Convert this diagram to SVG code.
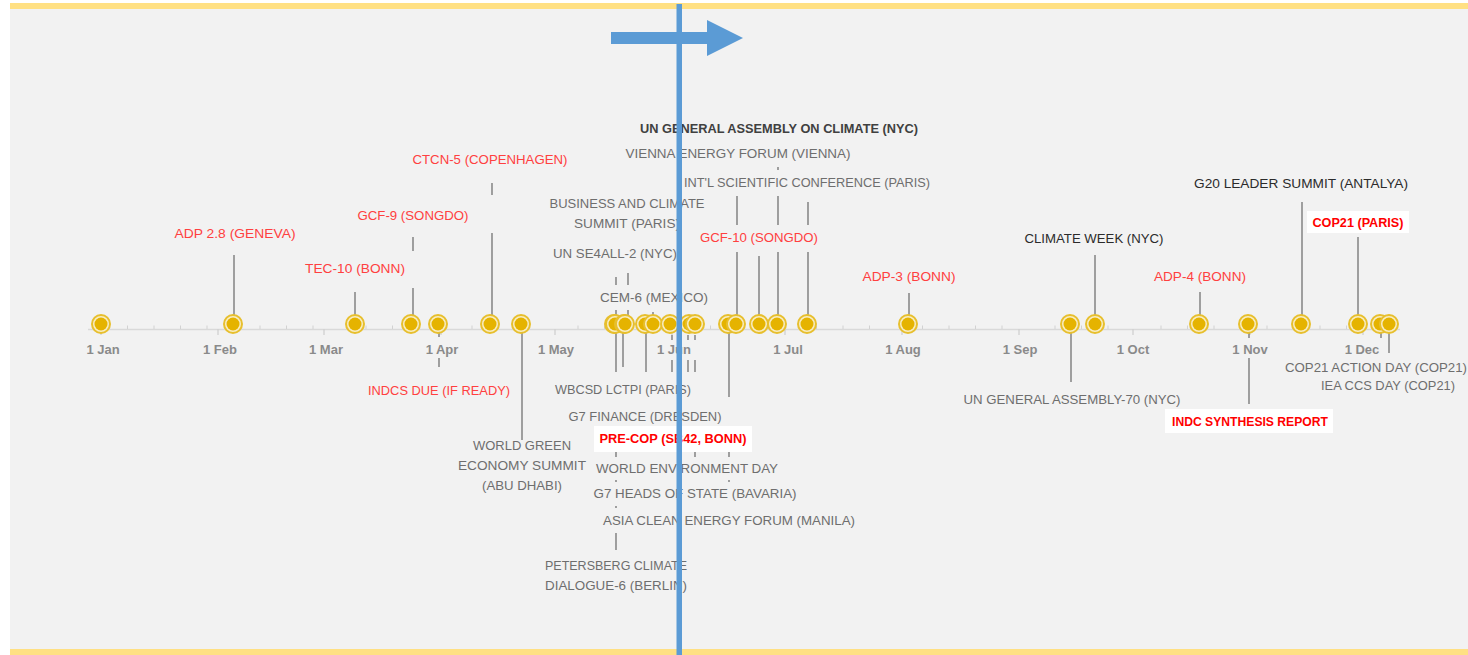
<svg xmlns="http://www.w3.org/2000/svg" xmlns:xlink="http://www.w3.org/1999/xlink" width="1468" height="655" viewBox="0 0 1468 655">
<style>
.t{font-family:"Liberation Sans",Arial,sans-serif;font-size:13.5px;text-anchor:middle}
.red{fill:#ff4040}
.gray{fill:#6e6e6e}
.dark{fill:#2b2b2b}
.bred{fill:#ff0000;font-weight:bold}
.bdark{fill:#404040;font-weight:bold}
.mon{fill:#8a8a8a;font-weight:bold;font-size:13px}
.stem{stroke:#7c7c7c;stroke-width:1.4;fill:none}
.minor{stroke:#d2d2d2;stroke-width:1}
.major{stroke:#cfcfcf;stroke-width:1.3}
.box{fill:#ffffff}
</style>
<defs>
<g id="dot"><circle r="9" fill="#f8edc4" stroke="#e7bf2e" stroke-width="2"/><circle r="6.5" fill="#e5b300"/></g>
</defs>
<rect x="10" y="3" width="1458" height="652" fill="#f2f2f2"/>
<rect x="10" y="3" width="1458" height="6" fill="#ffe083"/>
<rect x="10" y="649" width="1458" height="6" fill="#ffe083"/>

<g id="axis">
<line x1="88" y1="329.5" x2="1400" y2="329.5" stroke="#d9d9d9" stroke-width="1.5"/>
<g class="minor">
<line x1="127.5" y1="325.5" x2="127.5" y2="329"/><line x1="154" y1="325.5" x2="154" y2="329"/><line x1="180.5" y1="325.5" x2="180.5" y2="329"/><line x1="207" y1="325.5" x2="207" y2="329"/>
<line x1="260" y1="325.5" x2="260" y2="329"/><line x1="286.5" y1="325.5" x2="286.5" y2="329"/><line x1="313" y1="325.5" x2="313" y2="329"/>
<line x1="366" y1="325.5" x2="366" y2="329"/><line x1="392.5" y1="325.5" x2="392.5" y2="329"/><line x1="419" y1="325.5" x2="419" y2="329"/>
<line x1="472" y1="325.5" x2="472" y2="329"/><line x1="498.5" y1="325.5" x2="498.5" y2="329"/><line x1="525" y1="325.5" x2="525" y2="329"/>
<line x1="578" y1="325.5" x2="578" y2="329"/><line x1="604.5" y1="325.5" x2="604.5" y2="329"/><line x1="631" y1="325.5" x2="631" y2="329"/><line x1="657.5" y1="325.5" x2="657.5" y2="329"/>
<line x1="710.5" y1="325.5" x2="710.5" y2="329"/><line x1="737" y1="325.5" x2="737" y2="329"/><line x1="763.5" y1="325.5" x2="763.5" y2="329"/>
<line x1="816.5" y1="325.5" x2="816.5" y2="329"/><line x1="843" y1="325.5" x2="843" y2="329"/><line x1="869.5" y1="325.5" x2="869.5" y2="329"/>
<line x1="922.5" y1="325.5" x2="922.5" y2="329"/><line x1="949" y1="325.5" x2="949" y2="329"/><line x1="975.5" y1="325.5" x2="975.5" y2="329"/><line x1="1002" y1="325.5" x2="1002" y2="329"/>
<line x1="1055" y1="325.5" x2="1055" y2="329"/><line x1="1081.5" y1="325.5" x2="1081.5" y2="329"/><line x1="1108" y1="325.5" x2="1108" y2="329"/>
<line x1="1161" y1="325.5" x2="1161" y2="329"/><line x1="1187.5" y1="325.5" x2="1187.5" y2="329"/><line x1="1214" y1="325.5" x2="1214" y2="329"/>
<line x1="1267" y1="325.5" x2="1267" y2="329"/><line x1="1293.5" y1="325.5" x2="1293.5" y2="329"/><line x1="1320" y1="325.5" x2="1320" y2="329"/><line x1="1346.5" y1="325.5" x2="1346.5" y2="329"/>
<line x1="1373" y1="325.5" x2="1373" y2="329"/>
</g>
<g class="major">
<line x1="101" y1="329" x2="101" y2="335"/><line x1="218" y1="329" x2="218" y2="335"/><line x1="324" y1="329" x2="324" y2="335"/><line x1="441" y1="329" x2="441" y2="335"/>
<line x1="555" y1="329" x2="555" y2="335"/><line x1="672" y1="329" x2="672" y2="335"/><line x1="785" y1="329" x2="785" y2="335"/><line x1="902" y1="329" x2="902" y2="335"/>
<line x1="1019" y1="329" x2="1019" y2="335"/><line x1="1133" y1="329" x2="1133" y2="335"/><line x1="1250" y1="329" x2="1250" y2="335"/><line x1="1363" y1="329" x2="1363" y2="335"/>
</g>
<g class="t mon">
<text x="103" y="354">1 Jan</text><text x="220" y="354">1 Feb</text><text x="326" y="354">1 Mar</text><text x="442" y="354">1 Apr</text>
<text x="556" y="354">1 May</text><text x="674" y="354">1 Jun</text><text x="788" y="354">1 Jul</text><text x="903" y="354">1 Aug</text>
<text x="1020" y="354">1 Sep</text><text x="1133" y="354">1 Oct</text><text x="1250" y="354">1 Nov</text><text x="1362" y="354">1 Dec</text>
</g>
</g>

<g id="connectors" class="stem">
<path d="M234 255V316"/>
<path d="M355 292V316"/>
<path d="M413 237V251M413 288V316"/>
<path d="M439 333V337M439 358V367"/>
<path d="M492 183V195M492 233V316"/>
<path d="M522 333V440"/>
<path d="M616 277V285M616 310V316"/>
<path d="M628 273V285M628 310V316"/>
<path d="M653 312V316"/>
<path d="M616 333V372M616 452V457M616 480V482M616 506V508M616 533V550"/>
<path d="M623 333V367"/>
<path d="M646 333V372"/>
<path d="M672 335V340M672 360V372"/>
<path d="M688 335V340M688 360V372"/>
<path d="M695 335V340M695 360V372M695 452V457"/>
<path d="M729 333V397M729 452V457M729 480V482"/>
<path d="M737 196V225M737 252V316"/>
<path d="M759 256V316"/>
<path d="M778 167V170M778 196V225M778 252V316"/>
<path d="M808 202V225M808 252V316"/>
<path d="M909 293V316"/>
<path d="M1071 333V382"/>
<path d="M1095 255V316"/>
<path d="M1200 292V316"/>
<path d="M1249 333V338M1249 358V404"/>
<path d="M1302 202V316"/>
<path d="M1358 237V316"/>
<path d="M1381 333V338"/>
<path d="M1389 333V353"/>
</g>

<g id="n-start"><use href="#dot" x="101" y="324"/></g>
<g id="n-adp28"><use href="#dot" x="233" y="324"/><text class="t red" x="235" y="238" textLength="121" lengthAdjust="spacingAndGlyphs">ADP 2.8 (GENEVA)</text></g>
<g id="n-tec10"><use href="#dot" x="355" y="324"/><text class="t red" x="355" y="273" textLength="100" lengthAdjust="spacingAndGlyphs">TEC-10 (BONN)</text></g>
<g id="n-gcf9"><use href="#dot" x="411" y="324"/><text class="t red" x="413" y="220" textLength="111" lengthAdjust="spacingAndGlyphs">GCF-9 (SONGDO)</text></g>
<g id="n-indcs"><use href="#dot" x="438" y="324"/><text class="t red" x="439" y="395" textLength="142" lengthAdjust="spacingAndGlyphs">INDCS DUE (IF READY)</text></g>
<g id="n-ctcn5"><use href="#dot" x="490" y="324"/><text class="t red" x="490" y="164" textLength="155" lengthAdjust="spacingAndGlyphs">CTCN-5 (COPENHAGEN)</text></g>
<g id="n-wges"><use href="#dot" x="521" y="324"/>
<text class="t gray" x="522" y="450" textLength="98" lengthAdjust="spacingAndGlyphs">WORLD GREEN</text>
<text class="t gray" x="522" y="470" textLength="128" lengthAdjust="spacingAndGlyphs">ECONOMY SUMMIT</text>
<text class="t gray" x="522" y="490" textLength="80" lengthAdjust="spacingAndGlyphs">(ABU DHABI)</text></g>
<g id="n-petersberg"><use href="#dot" x="614" y="324"/>
<text class="t gray" x="616" y="570" textLength="142" lengthAdjust="spacingAndGlyphs">PETERSBERG  CLIMATE</text>
<text class="t gray" x="616" y="590" textLength="142" lengthAdjust="spacingAndGlyphs">DIALOGUE-6 (BERLIN)</text></g>
<g id="n-se4all"><use href="#dot" x="615" y="324"/><text class="t gray" x="615" y="258" textLength="124" lengthAdjust="spacingAndGlyphs">UN SE4ALL-2 (NYC)</text></g>
<g id="n-wbcsd"><use href="#dot" x="624" y="324"/><text class="t gray" x="623" y="394" textLength="136" lengthAdjust="spacingAndGlyphs">WBCSD  LCTPI (PARIS)</text></g>
<g id="n-business"><use href="#dot" x="625" y="324"/>
<text class="t gray" x="627" y="208" textLength="155" lengthAdjust="spacingAndGlyphs">BUSINESS  AND CLIMATE</text>
<text class="t gray" x="627" y="228" textLength="106" lengthAdjust="spacingAndGlyphs">SUMMIT (PARIS)</text></g>
<g id="n-g7fin"><use href="#dot" x="645" y="324"/><text class="t gray" x="645" y="421" textLength="153" lengthAdjust="spacingAndGlyphs">G7 FINANCE (DRESDEN)</text></g>
<g id="n-cem6"><use href="#dot" x="653" y="324"/><text class="t gray" x="654" y="302" textLength="108" lengthAdjust="spacingAndGlyphs">CEM-6 (MEXICO)</text></g>
<g id="n-precop"><use href="#dot" x="670" y="324"/><rect class="box" x="594" y="426" width="158" height="26"/><text class="t bred" x="673" y="443" textLength="147" lengthAdjust="spacingAndGlyphs">PRE-COP (SB42, BONN)</text></g>
<g id="n-wed"><use href="#dot" x="689" y="324"/><text class="t gray" x="687" y="473" textLength="182" lengthAdjust="spacingAndGlyphs">WORLD  ENVIRONMENT DAY</text></g>
<g id="n-g7heads"><use href="#dot" x="695" y="324"/><text class="t gray" x="695" y="498" textLength="203" lengthAdjust="spacingAndGlyphs">G7 HEADS OF STATE  (BAVARIA)</text></g>
<g id="n-acef"><use href="#dot" x="728" y="324"/><text class="t gray" x="729" y="525" textLength="252" lengthAdjust="spacingAndGlyphs">ASIA CLEAN ENERGY FORUM (MANILA)</text></g>
<g id="n-vienna"><use href="#dot" x="736" y="324"/><text class="t gray" x="738" y="158" textLength="225" lengthAdjust="spacingAndGlyphs">VIENNA ENERGY FORUM (VIENNA)</text></g>
<g id="n-gcf10"><use href="#dot" x="759" y="324"/><text class="t red" x="759" y="242" textLength="118" lengthAdjust="spacingAndGlyphs">GCF-10 (SONGDO)</text></g>
<g id="n-unga-climate"><use href="#dot" x="777" y="324"/><text class="t bdark" x="779" y="133" textLength="278" lengthAdjust="spacingAndGlyphs">UN GENERAL ASSEMBLY ON CLIMATE (NYC)</text></g>
<g id="n-intl"><use href="#dot" x="807" y="324"/><text class="t gray" x="807" y="187" textLength="246" lengthAdjust="spacingAndGlyphs">INT'L SCIENTIFIC  CONFERENCE (PARIS)</text></g>
<g id="n-adp3"><use href="#dot" x="908" y="324"/><text class="t red" x="909" y="281" textLength="93" lengthAdjust="spacingAndGlyphs">ADP-3 (BONN)</text></g>
<g id="n-unga70"><use href="#dot" x="1070" y="324"/><text class="t gray" x="1072" y="404" textLength="217" lengthAdjust="spacingAndGlyphs">UN GENERAL ASSEMBLY-70  (NYC)</text></g>
<g id="n-climweek"><use href="#dot" x="1095" y="324"/><text class="t dark" x="1094" y="243" textLength="139" lengthAdjust="spacingAndGlyphs">CLIMATE WEEK (NYC)</text></g>
<g id="n-adp4"><use href="#dot" x="1199" y="324"/><text class="t red" x="1200" y="281" textLength="92" lengthAdjust="spacingAndGlyphs">ADP-4 (BONN)</text></g>
<g id="n-indcsyn"><use href="#dot" x="1248" y="324"/><rect class="box" x="1165" y="409" width="168" height="24"/><text class="t bred" x="1250" y="426" textLength="156" lengthAdjust="spacingAndGlyphs">INDC SYNTHESIS REPORT</text></g>
<g id="n-g20"><use href="#dot" x="1301" y="324"/><text class="t dark" x="1301" y="188" textLength="214" lengthAdjust="spacingAndGlyphs">G20 LEADER SUMMIT (ANTALYA)</text></g>
<g id="n-cop21"><use href="#dot" x="1358" y="324"/><rect class="box" x="1307" y="211" width="102" height="22"/><text class="t bred" x="1358" y="227" textLength="91" lengthAdjust="spacingAndGlyphs">COP21 (PARIS)</text></g>
<g id="n-actionday"><use href="#dot" x="1380" y="324"/><text class="t gray" x="1376" y="372" textLength="182" lengthAdjust="spacingAndGlyphs">COP21  ACTION DAY (COP21)</text></g>
<g id="n-iea"><use href="#dot" x="1389" y="324"/><text class="t gray" x="1388" y="390" textLength="134" lengthAdjust="spacingAndGlyphs">IEA CCS  DAY (COP21)</text></g>

<g id="today-marker" fill="#5b9bd5">
<rect x="676.5" y="4" width="5.5" height="651"/>
<polygon points="611,32 707,32 707,20 743,38 707,56 707,44 611,44"/>
</g>
</svg>
